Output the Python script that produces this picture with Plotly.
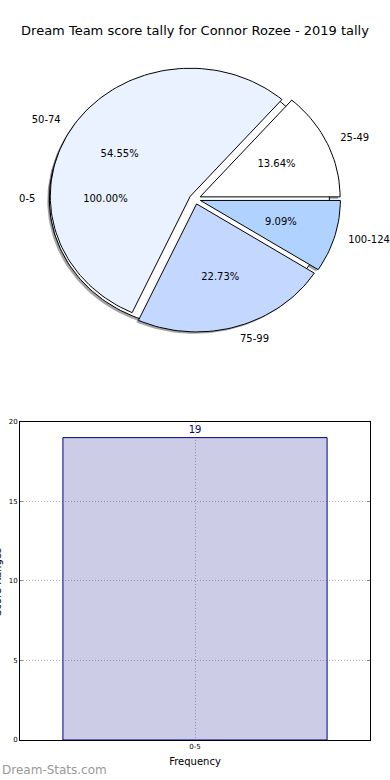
import numpy as np
import plotly.graph_objects as go

# ---------------- data ----------------
title_text = "Dream Team score tally for Connor Rozee - 2019 tally"

base_labels = ["0-5"]
base_counts = [19]
base_colors = ["#ffffff"]

pie_labels = ["25-49", "50-74", "75-99", "100-124"]
pie_counts = [3, 12, 5, 2]
pie_colors = ["#ffffff", "#eaf1ff", "#c4d8ff", "#b0d2ff"]

bar_categories = ["0-5"]
bar_values = [19]
y_ticks = [0, 5, 10, 15, 20]

x_title = "Frequency"
y_title = "Score Ranges"
watermark = "Dream-Stats.com"

# ---------------- style ----------------
FONT = "DejaVu Sans"
EXPLODE = 0.04
SHADOW_DX, SHADOW_DY = -0.015, -0.015
W, H = 390, 780

fig = go.Figure()


def wedge_geometry(counts):
    counts = np.asarray(counts, dtype=float)
    frac = counts / counts.sum()
    starts = np.concatenate([[0.0], np.cumsum(frac)[:-1]]) * 2 * np.pi
    ends = np.cumsum(frac) * 2 * np.pi
    return frac, starts, ends


def wedge_xy(t1, t2, cx, cy):
    n = max(int((t2 - t1) / (2 * np.pi) * 200), 8)
    t = np.linspace(t1, t2, n)
    if t2 - t1 >= 2 * np.pi - 1e-9:
        xs = cx + np.cos(t)
        ys = cy + np.sin(t)
    else:
        xs = np.concatenate([[cx], cx + np.cos(t), [cx]])
        ys = np.concatenate([[cy], cy + np.sin(t), [cy]])
    return xs, ys


pies = [
    (base_labels, base_counts, base_colors),
    (pie_labels, pie_counts, pie_colors),
]

geoms = []
for labels, counts, colors in pies:
    frac, starts, ends = wedge_geometry(counts)
    mids = (starts + ends) / 2
    cxs = EXPLODE * np.cos(mids)
    cys = EXPLODE * np.sin(mids)
    geoms.append((labels, colors, frac, starts, ends, mids, cxs, cys))

# shadows (all below wedges)
for labels, colors, frac, starts, ends, mids, cxs, cys in geoms:
    for i in range(len(labels)):
        xs, ys = wedge_xy(starts[i], ends[i], cxs[i] + SHADOW_DX, cys[i] + SHADOW_DY)
        fig.add_trace(go.Scatter(x=xs, y=ys, mode="lines", fill="toself",
                                 fillcolor="rgba(76,76,76,0.5)",
                                 line=dict(width=0), hoverinfo="skip",
                                 cliponaxis=False,
                                 showlegend=False, xaxis="x2", yaxis="y2"))

# wedges
for labels, colors, frac, starts, ends, mids, cxs, cys in geoms:
    for i in range(len(labels)):
        xs, ys = wedge_xy(starts[i], ends[i], cxs[i], cys[i])
        fig.add_trace(go.Scatter(x=xs, y=ys, mode="lines", fill="toself",
                                 fillcolor=colors[i],
                                 line=dict(color="black", width=1),
                                 name=labels[i], hoverinfo="name",
                                 cliponaxis=False,
                                 showlegend=False, xaxis="x2", yaxis="y2"))

# texts
for labels, colors, frac, starts, ends, mids, cxs, cys in geoms:
    px = cxs + 0.6 * np.cos(mids)
    py = cys + 0.6 * np.sin(mids)
    fig.add_trace(go.Scatter(x=px, y=py, mode="text",
                             text=["%.2f%%" % (f * 100) for f in frac],
                             textposition="middle center",
                             textfont=dict(family=FONT, size=10, color="black"),
                             hoverinfo="skip", showlegend=False,
                             cliponaxis=False,
                             xaxis="x2", yaxis="y2"))
    lx = cxs + 1.1 * np.cos(mids)
    ly = cys + 1.1 * np.sin(mids)
    pos = ["middle right" if np.cos(m) >= 0 else "middle left" for m in mids]
    fig.add_trace(go.Scatter(x=lx, y=ly, mode="text", text=list(labels),
                             textposition=pos,
                             textfont=dict(family=FONT, size=10, color="black"),
                             hoverinfo="skip", showlegend=False,
                             cliponaxis=False,
                             xaxis="x2", yaxis="y2"))

# ---------------- bar chart ----------------
fig.add_trace(go.Bar(x=bar_categories, y=bar_values, width=0.8,
                     marker=dict(color="rgba(0,0,128,0.2)",
                                 line=dict(color="#000080", width=1)),
                     text=[str(v) for v in bar_values],
                     textposition="outside", cliponaxis=False,
                     textfont=dict(family=FONT, size=10, color="#000080"),
                     showlegend=False, xaxis="x", yaxis="y"))

# pie axes geometry: 140 px per unit horizontally, 128 px per unit vertically
pie_top_px, pie_bot_px, cy_px = 50, 360, 199
rx_px, ry_px = 140.0, 128.0
x2_half = (W / 2) / rx_px
y2_range = [-(pie_bot_px - cy_px) / ry_px, (cy_px - pie_top_px) / ry_px]

bar_left, bar_right, bar_top, bar_bot = 20, 370, 421.7, 740
GRID = "#b8b8b8"
GRID_DASH = "1px,2px"

fig.update_layout(
    template="none",
    width=W, height=H, autosize=False,
    margin=dict(l=0, r=0, t=0, b=0, pad=0),
    paper_bgcolor="white", plot_bgcolor="white",
    font=dict(family=FONT, color="black"),
    title=dict(text=title_text, x=0.5, xanchor="center", xref="paper",
               y=1 - 30 / H, yanchor="middle", yref="paper",
               font=dict(family=FONT, size=13, color="black")),
    xaxis2=dict(domain=[0, 1], range=[-x2_half, x2_half], visible=False,
                anchor="y2", fixedrange=True, automargin=False),
    yaxis2=dict(domain=[1 - pie_bot_px / H, 1 - pie_top_px / H],
                range=y2_range, visible=False, anchor="x2", fixedrange=True,
                automargin=False),
    xaxis=dict(domain=[bar_left / W, bar_right / W], anchor="y",
               type="category", range=[-0.53, 0.53], automargin=False,
               showline=True, linecolor="black", linewidth=1, mirror=True,
               showgrid=True, gridcolor=GRID, griddash=GRID_DASH, gridwidth=1,
               zeroline=False,
               ticks="", tickfont=dict(family=FONT, size=7, color="black"),
               title=dict(text=x_title, standoff=7,
                          font=dict(family=FONT, size=10, color="black"))),
    yaxis=dict(domain=[1 - bar_bot / H, 1 - bar_top / H], anchor="x",
               range=[0, 20], tickvals=y_ticks, automargin=False,
               showline=True, linecolor="black", linewidth=1, mirror="ticks",
               ticks="inside", ticklen=3, tickcolor="#888888",
               showgrid=True, gridcolor=GRID, griddash=GRID_DASH, gridwidth=1,
               zeroline=False,
               tickfont=dict(family=FONT, size=7, color="black")),
    annotations=[
        dict(text=watermark, xref="paper", yref="paper", x=0, y=10 / H,
             xanchor="left", yanchor="middle", showarrow=False,
             font=dict(family=FONT, size=12, color="#999999")),
        dict(text=y_title, xref="paper", yref="paper", x=-3 / W,
             y=1 - 582 / H, xanchor="center", yanchor="middle",
             textangle=-90, showarrow=False,
             font=dict(family=FONT, size=10, color="black")),
    ],
)

fig.write_html(
    "out.html",
    config={"displayModeBar": False},
    post_script="document.body.style.margin='0';document.body.style.padding='0';",
)
